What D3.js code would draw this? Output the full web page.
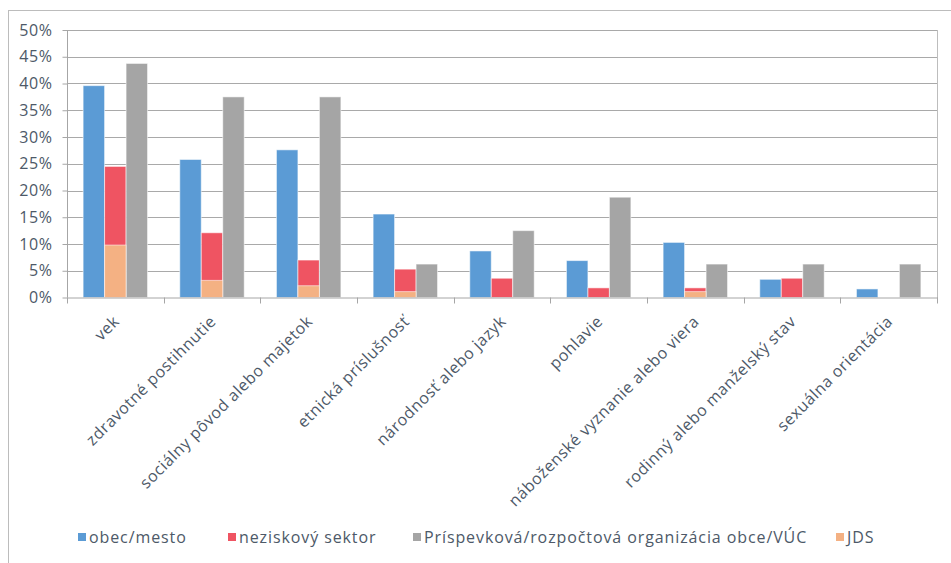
<!DOCTYPE html>
<html><head><meta charset="utf-8">
<script src="https://cdn.jsdelivr.net/npm/d3@7"></script>
<style>
html,body{margin:0;padding:0;background:#fff;}
svg{display:block;font-family:"Open Sans",sans-serif;}
</style></head>
<body>
<svg id="c" width="951" height="563"></svg>
<script>
const categories = ["vek","zdravotné postihnutie","sociálny pôvod alebo majetok","etnická príslušnosť","národnosť alebo jazyk","pohlavie","náboženské vyznanie alebo viera","rodinný alebo manželský stav","sexuálna orientácia"];
const obecMesto = [0.396,0.258,0.276,0.156,0.087,0.069,0.103,0.034,0.016];
const neziskovy = [0.245,0.121,0.070,0.053,0.036,0.018,0.018,0.036,0.0];
const prispevkova = [0.4375,0.375,0.375,0.0625,0.125,0.1875,0.0625,0.0625,0.0625];
const jds = [0.098,0.032,0.022,0.011,0,0,0.011,0,0];
const seriesNames = ["obec/mesto","neziskový sektor","Príspevková/rozpočtová organizácia obce/VÚC","JDS"];
const yTicks = [0,0.05,0.1,0.15,0.2,0.25,0.3,0.35,0.4,0.45,0.5];

const colors = ["#5B9BD5","#EF5462","#A5A5A5","#F4B183"];
const textColor = "#4d5968";
const svg = d3.select("#c");

// chart border
svg.append("rect").attr("x",8.5).attr("y",10.5).attr("width",960).attr("height",600)
  .attr("fill","none").attr("stroke","#bcbcbc").attr("stroke-width",1);

const pL=67, pR=937, pT=30, pB=297.5;
const x = d3.scaleBand().domain(categories).range([pL,pR]).padding(0);
const bw = x.bandwidth();
const x1 = d3.scaleBand().domain([0,1,2]).range([bw/6, bw*5/6]).padding(0);
const y = d3.scaleLinear().domain([0,0.5]).range([pB,pT]);

// gridlines
svg.append("g").selectAll("line").data(yTicks.filter(d=>d>0)).join("line")
  .attr("x1",pL).attr("x2",pR)
  .attr("y1",d=>Math.round(y(d))+0.5).attr("y2",d=>Math.round(y(d))+0.5)
  .attr("stroke","#a9a9a9").attr("stroke-width",1);
// right frame line
svg.append("line").attr("x1",pR+0.5).attr("x2",pR+0.5).attr("y1",Math.round(y(0.5))).attr("y2",pB+5)
  .attr("stroke","#bdbdbd");

// bars
const rows = categories.map((c,i)=>({c,i,vals:[obecMesto[i],neziskovy[i],prispevkova[i]],jds:jds[i]}));
const g = svg.append("g");
rows.forEach(r=>{
  r.vals.forEach((v,k)=>{
    if(v<=0) return;
    g.append("rect")
      .attr("x",x(r.c)+x1(k)).attr("width",x1.bandwidth())
      .attr("y",y(v)).attr("height",y(0)-y(v))
      .attr("fill",colors[k]).attr("stroke","#ffffff").attr("stroke-opacity",0.55).attr("stroke-width",1);
  });
  if(r.jds>0){
    g.append("rect")
      .attr("x",x(r.c)+x1(1)).attr("width",x1.bandwidth())
      .attr("y",y(r.jds)).attr("height",y(0)-y(r.jds))
      .attr("fill",colors[3]).attr("stroke","#ffffff").attr("stroke-opacity",0.55).attr("stroke-width",1);
  }
});

// y axis
const ya = svg.append("g").attr("transform",`translate(${pL+0.5},0)`)
  .call(d3.axisLeft(y).tickValues(yTicks).tickFormat(d3.format(".0%")).tickSize(5).tickPadding(10));
ya.select(".domain").attr("stroke","#a6a6a6").attr("d",`M-0,${pT}V${pB}`);
ya.selectAll(".tick line").attr("stroke","#a6a6a6");
ya.selectAll(".tick text").attr("fill",textColor).style("font-size","16px").style("font-family","Open Sans")
  .style("letter-spacing","0.6px");

// x axis
svg.append("line").attr("x1",pL).attr("x2",pR+1).attr("y1",pB+0.5).attr("y2",pB+0.5).attr("stroke","#a6a6a6");
const bounds = d3.range(categories.length+1).map(i=>pL+i*bw);
svg.append("g").selectAll("line").data(bounds).join("line")
  .attr("x1",d=>Math.round(d)+0.5).attr("x2",d=>Math.round(d)+0.5)
  .attr("y1",pB).attr("y2",pB+6).attr("stroke","#a6a6a6");
svg.append("g").selectAll("text").data(categories).join("text")
  .attr("transform",d=>`translate(${x(d)+bw/2+1},${pB+21}) rotate(-45)`)
  .attr("text-anchor","end").attr("dy","0.35em")
  .attr("fill",textColor).style("font-size","16px").style("letter-spacing","0.55px")
  .text(d=>d);

// legend
const legendX = [78,228,413,836];
const lg = svg.append("g");
seriesNames.forEach((n,i)=>{
  lg.append("rect").attr("x",legendX[i]).attr("y",533).attr("width",8).attr("height",8).attr("fill",colors[i]);
  lg.append("text").attr("x",legendX[i]+11).attr("y",537).attr("dy","0.35em")
    .attr("fill",textColor).style("font-size","16px").style("letter-spacing","0.9px").text(n);
});
</script>
</body></html>
